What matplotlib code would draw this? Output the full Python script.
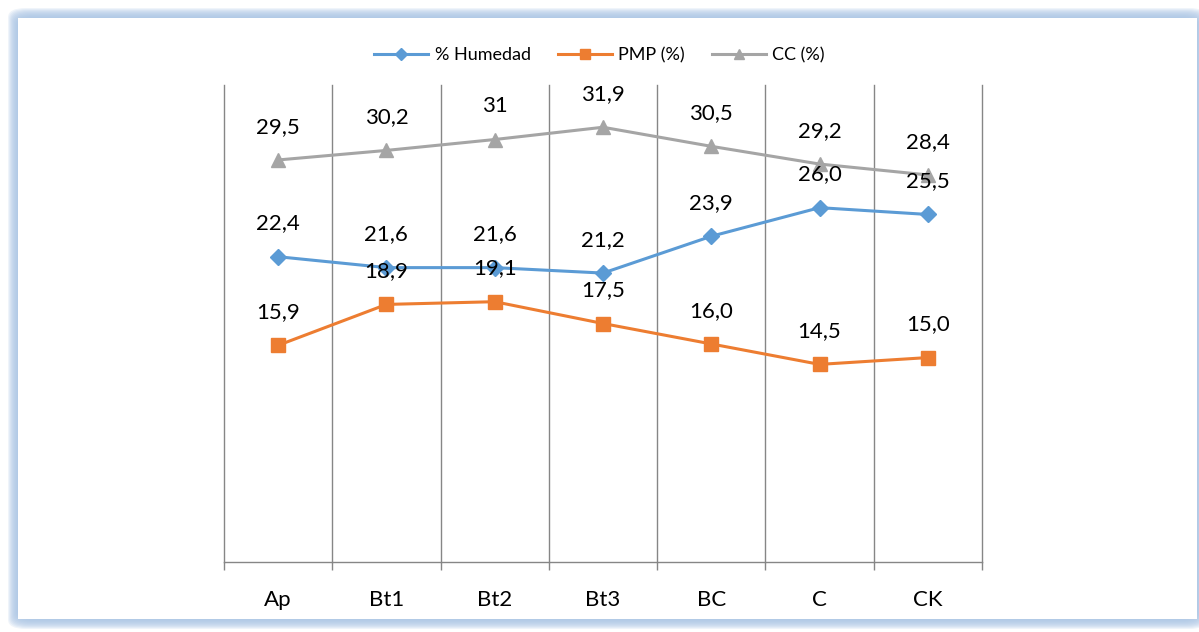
import matplotlib.pyplot as plt
import numpy as np
from matplotlib.patches import FancyBboxPatch

categories = ["Ap", "Bt1", "Bt2", "Bt3", "BC", "C", "CK"]
humedad = [22.4, 21.6, 21.6, 21.2, 23.9, 26.0, 25.5]
pmp = [15.9, 18.9, 19.1, 17.5, 16.0, 14.5, 15.0]
cc = [29.5, 30.2, 31.0, 31.9, 30.5, 29.2, 28.4]

plt.rcParams["font.family"] = ["Lato", "DejaVu Sans"]

fig = plt.figure(figsize=(11.99, 6.32), dpi=100)
fig.patch.set_facecolor("white")

# soft blue glow frame
W, H = 1199, 632
for i in range(10):
    pad = 10 - i
    box = FancyBboxPatch(((18 - pad) / W, (13 - pad) / H), (1179 + 2 * pad) / W, (601 + 2 * pad) / H,
                         boxstyle="round,pad=0,rounding_size=0.015", transform=fig.transFigure,
                         facecolor="#a9c4e4", edgecolor="none", alpha=0.18, zorder=0)
    fig.patches.append(box)
inner = FancyBboxPatch((18 / W, 13 / H), 1179 / W, 601 / H, boxstyle="square,pad=0",
                       transform=fig.transFigure, facecolor="white", edgecolor="none", zorder=1)
fig.patches.append(inner)

ax = fig.add_axes([224 / W, 1 - 562 / H, (982 - 224) / W, (562 - 85) / H])
ax.set_zorder(2)
ax.patch.set_alpha(0)

x = np.arange(len(categories))
ax.plot(x, humedad, color="#5b9bd5", lw=2.2, marker="D", ms=8.5, label="% Humedad")
ax.plot(x, pmp, color="#ed7d31", lw=2.2, marker="s", ms=9.5, label="PMP (%)")
ax.plot(x, cc, color="#a5a5a5", lw=2.2, marker="^", ms=10.5, label="CC (%)")

for series, fmt in [(humedad, "{:.1f}"), (pmp, "{:.1f}"), (cc, "{:g}")]:
    for xi, v in zip(x, series):
        ax.annotate(fmt.format(v).replace(".", ","), (xi, v), xytext=(0, 24),
                    textcoords="offset points", ha="center", va="center", fontsize=16)

ax.set_xlim(-0.5, len(categories) - 0.5)
ax.set_ylim(0, 35)
ax.set_yticks([])
ax.set_xticks(x)
ax.set_xticklabels(categories, fontsize=16)
ax.tick_params(axis="x", which="major", length=0, pad=20)
bounds = np.arange(-0.5, len(categories))
ax.set_xticks(bounds, minor=True)
ax.tick_params(axis="x", which="minor", length=6, color="#868686", width=1)
for b in bounds:
    ax.axvline(b, color="#868686", lw=1, clip_on=False, zorder=0)
for side in ["top", "left", "right"]:
    ax.spines[side].set_visible(False)
ax.spines["bottom"].set_color("#868686")
ax.spines["bottom"].set_linewidth(1)

ax.legend(loc="center", bbox_to_anchor=(0.5, 1 - 55 / H), bbox_transform=fig.transFigure,
          ncol=3, frameon=False, fontsize=13, handlelength=3.0, columnspacing=1.5,
          handletextpad=0.35, markerscale=0.75)

fig.savefig("out.png", dpi=100)
